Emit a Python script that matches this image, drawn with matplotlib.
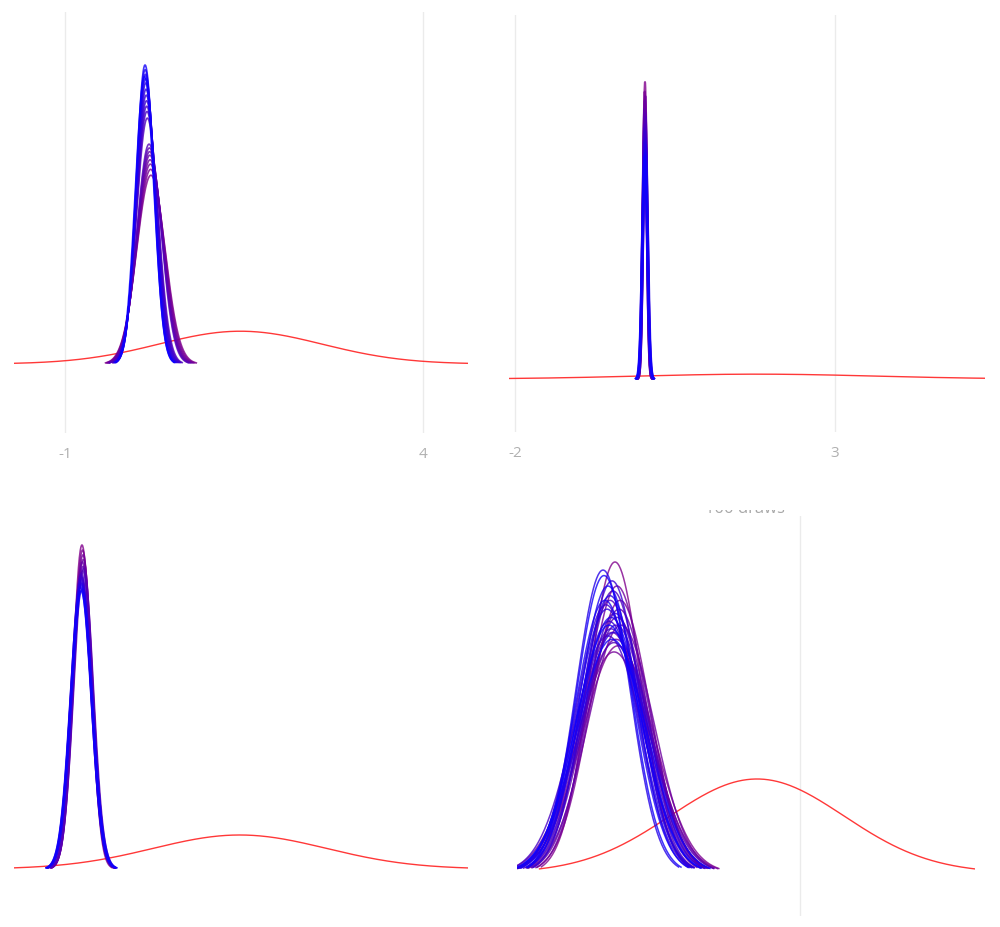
import numpy as np
import matplotlib
matplotlib.use("Agg")
import matplotlib.pyplot as plt
from matplotlib.patches import Rectangle

plt.rcParams['font.family'] = ['Open Sans', 'DejaVu Sans']

# ---- data: prior (mean, sd) and posterior curves (means, sds) per panel ----
# top left
tl_prior = (1.45, 1.14)
tl_means = [0.200, 0.196, 0.192, 0.188, 0.185, 0.182, 0.178, 0.174, 0.150, 0.145,
            0.141, 0.138, 0.135, 0.132, 0.129, 0.126, 0.123, 0.120, 0.118, 0.112]
tl_sds = [0.198, 0.192, 0.187, 0.183, 0.179, 0.176, 0.173, 0.170, 0.152, 0.148,
          0.145, 0.142, 0.139, 0.136, 0.133, 0.131, 0.129, 0.127, 0.125, 0.130]
tl_ticks = [-1, 4]

# top right
tr_prior = (1.78, 1.84)
tr_means = [0.031, 0.026, 0.036, 0.029, 0.022, 0.034, 0.040, 0.028, 0.021, 0.033,
            0.038, 0.025, 0.042, 0.030, 0.035, 0.024]
tr_sds = [0.0300, 0.0310, 0.0315, 0.0320, 0.0330, 0.0335, 0.0340, 0.0350, 0.0355, 0.0360,
          0.0370, 0.0375, 0.0380, 0.0390, 0.0395, 0.0400]
tr_ticks = [-2, 3]

# bottom left
bl_prior = (1.44, 1.21)
bl_means = [-0.763, -0.755, -0.750, -0.745, -0.758, -0.748, -0.740, -0.752, -0.770,
            -0.778, -0.765, -0.772, -0.780, -0.768, -0.775, -0.782, -0.760, -0.776]
bl_sds = [0.127, 0.129, 0.131, 0.133, 0.134, 0.136, 0.137, 0.138, 0.139,
          0.140, 0.141, 0.142, 0.143, 0.144, 0.145, 0.146, 0.147, 0.148]

# bottom right
br_prior = (0.57, 0.87)
br_means = [-0.85, -0.82, -0.80, -0.86, -0.83, -0.79, -0.84, -0.81, -0.88, -0.83,
            -0.86, -0.90, -0.84, -0.87, -0.92, -0.85, -0.89, -0.94, -0.88, -0.91,
            -0.86, -0.93, -0.90, -0.97, -0.89, -0.95, -0.92, -0.88, -0.96, -0.91]
br_sds = [0.263, 0.36, 0.30, 0.37, 0.285, 0.33, 0.35, 0.31, 0.34, 0.32,
          0.355, 0.30, 0.33, 0.29, 0.345, 0.315, 0.335, 0.305, 0.28, 0.325,
          0.34, 0.31, 0.295, 0.27, 0.32, 0.30, 0.285, 0.35, 0.275, 0.33]
br_ticks = [1]

title_text = "100 draws"

W, H = 1000, 927
fig = plt.figure(figsize=(W / 100, H / 100), dpi=100)

PURPLE = np.array([0.50, 0.0, 0.55])
BLUE = np.array([0.05, 0.0, 1.0])


def pdf(x, m, s):
    return np.exp(-0.5 * ((x - m) / s) ** 2) / (s * np.sqrt(2 * np.pi))


def panel(box, xlim, base_px, peak_px, prior, prior_k, means, sds, k, lw=1.2,
          ticks=None, labels=True):
    x0, y0, x1, y1 = box
    ax = fig.add_axes([x0 / W, 1 - y1 / H, (x1 - x0) / W, (y1 - y0) / H])
    # y scale so that 0 sits on the baseline and the tallest curve reaches peak_px
    top = max(1 / (s * np.sqrt(2 * np.pi)) for s in sds)
    sc = (base_px - peak_px) / top
    ax.set_ylim(-(y1 - base_px) / sc, (base_px - y0) / sc)
    ax.set_xlim(*xlim)

    pm, ps = prior
    if prior_k is None:
        xr = np.linspace(xlim[0], xlim[1], 400)
    else:
        xr = np.linspace(pm - prior_k * ps, pm + prior_k * ps, 400)
    ax.plot(xr, pdf(xr, pm, ps), color=(1.0, 0.22, 0.22), lw=1.0, zorder=3)

    n = len(means)
    for i, (m, s) in enumerate(zip(means, sds)):
        f = i / max(n - 1, 1)
        c = PURPLE * (1 - f) + BLUE * f
        xs = np.linspace(m - k * s, m + k * s, 200)
        ax.plot(xs, pdf(xs, m, s), color=c, lw=lw, alpha=0.8, zorder=4)

    for sp in ax.spines.values():
        sp.set_visible(False)
    ax.set_yticks([])
    if ticks:
        ax.set_xticks(ticks)
        ax.grid(axis='x', color='#ebebeb', lw=1)
        ax.tick_params(axis='x', length=0, pad=10, labelsize=11, labelcolor='#b0b0b0')
        if labels:
            ax.set_xticklabels([str(t) for t in ticks])
        else:
            ax.set_xticklabels([])
    else:
        ax.set_xticks([])
    ax.set_axisbelow(True)
    return ax


panel((14, 12, 468, 433), (-1.712, 4.628), 364, 65, tl_prior, None,
      tl_means, tl_sds, 3.2, ticks=tl_ticks)
panel((509, 15, 985, 432), (-2.094, 5.344), 379, 82, tr_prior, None,
      tr_means, tr_sds, 3.5, lw=1.5, ticks=tr_ticks)
panel((14, 490, 468, 915), (-1.712, 4.628), 869, 545, bl_prior, None,
      bl_means, bl_sds, 3.3)
panel((517, 516, 975, 916), (-1.83, 2.75), 873, 562, br_prior, 2.5,
      br_means, br_sds, 2.8, lw=1.1, ticks=br_ticks, labels=False)

# title of the last panel, mostly hidden behind the panel above
fig.text(745 / W, 1 - 513 / H, title_text, ha='center', va='baseline',
         fontsize=12, color='#a8a8a8', zorder=2)
fig.add_artist(Rectangle((680 / W, 1 - 509.5 / H), 130 / W, 30 / H,
                         transform=fig.transFigure, facecolor='white',
                         edgecolor='none', zorder=5))

fig.savefig("out.png", dpi=100)
